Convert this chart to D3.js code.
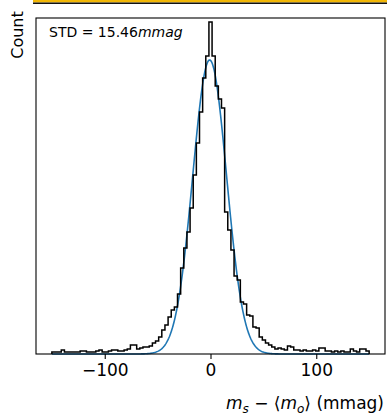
<!DOCTYPE html>
<html>
<head>
<meta charset="utf-8">
<script src="https://cdn.jsdelivr.net/npm/d3@7"></script>
<style>
  body { margin: 0; background: #fff; }
  svg { display: block; font-family: "DejaVu Sans", sans-serif; }
</style>
</head>
<body>
<div id="chart"></div>
<script>
// Residual histogram (m_s - <m_o>) with Gaussian fit

// histogram: 101 bins spanning binRange, counts (arbitrary count units)
const binRange = [-150, 150];
const counts = [
  2, 2, 2, 4, 2, 2, 2, 2, 2, 3,
  3, 2, 2, 2, 3, 4, 2, 2, 3, 4,
  4, 3, 3, 4, 5, 9, 9, 5, 6, 7,
  7, 8, 11, 13, 17, 24, 29, 37, 44, 47,
  60, 86, 106, 122, 146, 179, 211, 242, 276, 298,
  332,
  298, 268, 255, 246, 142, 124, 104, 78, 74, 52,
  50, 39, 38, 27, 26, 17, 14, 11, 9, 7,
  5, 6, 5, 4, 8, 7, 4, 4, 3, 4,
  3, 3, 4, 3, 6, 6, 3, 3, 2, 3,
  2, 3, 2, 2, 5, 3, 2, 5, 5, 3
];

// gaussian fit parameters (amplitude, mean, sigma)
const fitAmp = 294;
const fitMean = -0.8;
const fitSigma = 16.0;

const xTicks = [-100, 0, 100];
const xDomain = [-165, 165];
const yDomain = [0, 336];
const stdLabel = '15.46';

const width = 387, height = 415;
const margin = { left: 36, right: 2, top: 18, bottom: 61 };

const svg = d3.select('#chart').append('svg')
    .attr('width', width)
    .attr('height', height);

// strip of the panel above (cropped)
svg.append('rect')
    .attr('x', 33).attr('y', 0)
    .attr('width', width - 33).attr('height', 2.5)
    .attr('fill', '#f2b705');
svg.append('line')
    .attr('x1', 33).attr('x2', width)
    .attr('y1', 3.2).attr('y2', 3.2)
    .attr('stroke', '#111').attr('stroke-width', 1.5);

const x = d3.scaleLinear().domain(xDomain).range([margin.left, width - margin.right]);
const y = d3.scaleLinear().domain(yDomain).range([height - margin.bottom, margin.top]);

const plot = svg.append('g');

// histogram as step outline
const binW = (binRange[1] - binRange[0]) / counts.length;
const stepPts = [[binRange[0], 0]];
counts.forEach((c, i) => stepPts.push([binRange[0] + i * binW, c]));
stepPts.push([binRange[1], counts[counts.length - 1]]);
stepPts.push([binRange[1], 0]);

const stepLine = d3.line()
    .x(d => x(d[0]))
    .y(d => y(d[1]))
    .curve(d3.curveStepAfter);

// gaussian curve
const fitPts = d3.range(binRange[0], binRange[1] + 0.01, 0.5)
    .map(v => [v, fitAmp * Math.exp(-0.5 * Math.pow((v - fitMean) / fitSigma, 2))]);

plot.append('path')
    .datum(fitPts)
    .attr('fill', 'none')
    .attr('stroke', '#1f77b4')
    .attr('stroke-width', 1.6)
    .attr('d', d3.line().x(d => x(d[0])).y(d => y(d[1])));

plot.append('path')
    .datum(stepPts)
    .attr('fill', 'none')
    .attr('stroke', '#000')
    .attr('stroke-width', 1.5)
    .attr('stroke-linejoin', 'miter')
    .attr('d', stepLine);

// frame
svg.append('rect')
    .attr('x', margin.left).attr('y', margin.top)
    .attr('width', width - margin.right - margin.left)
    .attr('height', height - margin.bottom - margin.top)
    .attr('fill', 'none')
    .attr('stroke', '#000')
    .attr('stroke-width', 1.1);

// x axis
const xAxis = d3.axisBottom(x)
    .tickValues(xTicks)
    .tickSize(5)
    .tickPadding(5)
    .tickFormat(d => d < 0 ? '\u2212' + Math.abs(d) : String(d));

const gx = svg.append('g')
    .attr('transform', `translate(0,${height - margin.bottom})`)
    .call(xAxis);
gx.select('.domain').remove();
gx.selectAll('line').attr('stroke', '#000').attr('stroke-width', 1.1);
gx.selectAll('text')
    .attr('fill', '#000')
    .style('font-size', '17px')
    .style('font-family', '"DejaVu Sans", sans-serif');

// x label: m_s − ⟨m_o⟩ (mmag)
const xl = svg.append('text')
    .attr('x', 384).attr('y', 409)
    .attr('text-anchor', 'end')
    .style('font-size', '17px');
xl.append('tspan').style('font-style', 'italic').text('m');
xl.append('tspan').attr('dy', 4).style('font-size', '12px').style('font-style', 'italic').text('s');
xl.append('tspan').attr('dy', -4).text(' \u2212 \u27e8');
xl.append('tspan').style('font-style', 'italic').text('m');
xl.append('tspan').attr('dy', 4).style('font-size', '12px').style('font-style', 'italic').text('o');
xl.append('tspan').attr('dy', -4).text('\u27e9 (mmag)');

// y label
svg.append('text')
    .attr('transform', 'translate(23,35) rotate(-90)')
    .attr('text-anchor', 'middle')
    .style('font-size', '16px')
    .text('Count');

// annotation
const ann = svg.append('text')
    .attr('x', 49).attr('y', 37)
    .style('font-size', '14px');
ann.append('tspan').text('STD = ' + stdLabel);
ann.append('tspan').style('font-style', 'italic').text('mmag');
</script>
</body>
</html>
